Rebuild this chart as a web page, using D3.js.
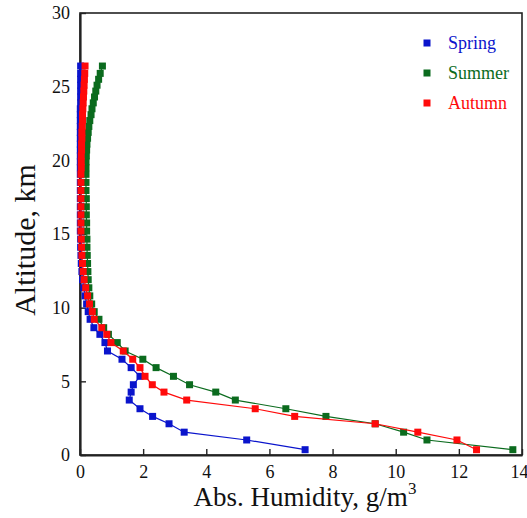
<!DOCTYPE html>
<html>
<head>
<meta charset="utf-8">
<script src="https://cdn.jsdelivr.net/npm/d3@7"></script>
<style>
  body { margin: 0; background: #fff; }
  text { font-family: "Liberation Serif", "Times New Roman", serif; }
</style>
</head>
<body>
<script>
// altitude levels (km), shared by all three seasons
var altitude = [0.36, 1.02, 1.55, 2.12, 2.62, 3.14, 3.73, 4.27, 4.77, 5.34,
  5.93, 6.5, 7.06, 7.63, 8.19, 8.64, 9.21, 9.73, 10.25,
  10.8, 11.35, 11.9, 12.45, 13.0, 13.55, 14.1, 14.65, 15.2, 15.75,
  16.3, 16.85, 17.4, 17.95, 18.5, 19.05, 19.5, 19.9, 20.3, 20.7,
  21.1, 21.5, 21.9, 22.3, 22.7, 23.1, 23.5, 23.9, 24.3, 24.7,
  25.1, 25.5, 25.9, 26.4];

var spring = [7.13, 5.28, 3.30, 2.82, 2.30, 1.90, 1.56, 1.62, 1.69, 1.90,
  1.62, 1.33, 0.87, 0.79, 0.63, 0.44, 0.32, 0.26, 0.21,
  0.16, 0.12, 0.08, 0.06, 0.04, 0.03, 0.02, 0.02, 0.01, 0.01,
  0.01, 0.01, 0.01, 0.01, 0.01, 0.01, 0.01, 0.01, 0.01, 0.01,
  0.01, 0.01, 0.01, 0.01, 0.01, 0.01, 0.01, 0.02, 0.02, 0.02,
  0.02, 0.02, 0.02, 0.02];

var summer = [13.71, 10.99, 10.25, 9.35, 7.79, 6.52, 4.92, 4.30, 3.47, 2.96,
  2.41, 1.99, 1.43, 1.18, 0.90, 0.75, 0.60, 0.45, 0.37,
  0.31, 0.28, 0.26, 0.25, 0.24, 0.23, 0.22, 0.22, 0.21, 0.21,
  0.20, 0.20, 0.20, 0.19, 0.19, 0.19, 0.19, 0.19, 0.20, 0.21,
  0.22, 0.24, 0.26, 0.28, 0.31, 0.35, 0.38, 0.42, 0.46, 0.50,
  0.54, 0.59, 0.64, 0.71];

var autumn = [12.56, 11.94, 10.70, 9.35, 6.80, 5.55, 3.38, 2.66, 2.29, 2.06,
  1.90, 1.67, 1.37, 0.98, 0.85, 0.69, 0.45, 0.39, 0.30,
  0.24, 0.18, 0.13, 0.10, 0.08, 0.06, 0.05, 0.04, 0.03, 0.03,
  0.03, 0.03, 0.03, 0.03, 0.03, 0.03, 0.04, 0.04, 0.04, 0.05,
  0.05, 0.06, 0.06, 0.07, 0.08, 0.08, 0.09, 0.10, 0.11, 0.12,
  0.13, 0.14, 0.15, 0.16];

var seasonNames = ['Spring', 'Summer', 'Autumn'];
var seasonColors = ['#0a14cc', '#0b6b1e', '#ff0a0a'];
var xTicks = [0, 2, 4, 6, 8, 10, 12, 14];
var yTicks = [0, 5, 10, 15, 20, 25, 30];

var width = 527, height = 518;
var margin = {top: 13, right: 5, bottom: 63, left: 80};
var w = width - margin.left - margin.right;
var h = height - margin.top - margin.bottom;
var serif = '"Liberation Serif", "Times New Roman", serif';

var svg = d3.select('body').append('svg')
  .attr('width', width)
  .attr('height', height);

var x = d3.scaleLinear().domain([0, 14]).range([0, w]);
var y = d3.scaleLinear().domain([0, 30]).range([h, 0]);

var g = svg.append('g')
  .attr('transform', 'translate(' + margin.left + ',' + margin.top + ')');

// frame
g.append('rect')
  .attr('width', w).attr('height', h)
  .attr('fill', 'none').attr('stroke', '#222').attr('stroke-width', 1.6);

var xAxis = g.append('g')
  .attr('transform', 'translate(0,' + h + ')')
  .call(d3.axisBottom(x).tickValues(xTicks).tickSizeInner(-6).tickSizeOuter(0).tickPadding(10));
var yAxis = g.append('g')
  .call(d3.axisLeft(y).tickValues(yTicks).tickSizeInner(-6).tickSizeOuter(0).tickPadding(10));

[xAxis, yAxis].forEach(function(a){
  a.attr('font-family', serif).attr('font-size', 18);
  a.select('.domain').attr('stroke', '#222').attr('stroke-width', 2.2);
  a.selectAll('.tick line').attr('stroke', '#222').attr('stroke-width', 1.4);
  a.selectAll('.tick text').attr('fill', '#111');
});
// keep the last x label inside the window
xAxis.selectAll('.tick text').filter(function(d){ return d === 14; }).attr('dx', -3);

var series = [spring, summer, autumn];
var line = d3.line()
  .x(function(d){ return x(d[0]); })
  .y(function(d){ return y(d[1]); });

series.forEach(function(vals, si){
  var pts = vals.map(function(v, i){ return [v, altitude[i]]; });
  g.append('path')
    .datum(pts)
    .attr('d', line)
    .attr('fill', 'none')
    .attr('stroke', seasonColors[si])
    .attr('stroke-width', 1.2);
  g.selectAll('.pt' + si)
    .data(pts)
    .enter()
      .append('rect')
      .attr('x', function(d){ return x(d[0]) - 3.5; })
      .attr('y', function(d){ return y(d[1]) - 3.5; })
      .attr('width', 7)
      .attr('height', 7)
      .attr('fill', seasonColors[si]);
});

// legend
var legend = g.append('g').attr('transform', 'translate(' + (427 - margin.left) + ',' + (43 - margin.top) + ')');
seasonNames.forEach(function(name, i){
  legend.append('rect')
    .attr('x', -3.5).attr('y', i * 30 - 3.5)
    .attr('width', 7).attr('height', 7)
    .attr('fill', seasonColors[i]);
  legend.append('text')
    .attr('x', 21).attr('y', i * 30 + 6)
    .attr('font-size', 18)
    .attr('fill', seasonColors[i])
    .text(name);
});

// axis titles
svg.append('text')
  .attr('transform', 'translate(35,240) rotate(-90)')
  .attr('text-anchor', 'middle')
  .attr('font-size', 30)
  .attr('fill', '#111')
  .text('Altitude, km');

var xt = svg.append('text')
  .attr('x', 305)
  .attr('y', 506)
  .attr('text-anchor', 'middle')
  .attr('font-size', 27)
  .attr('fill', '#111');
xt.append('tspan').text('Abs. Humidity, g/m');
xt.append('tspan').attr('font-size', 17).attr('dy', -12).text('3');
</script>
</body>
</html>
